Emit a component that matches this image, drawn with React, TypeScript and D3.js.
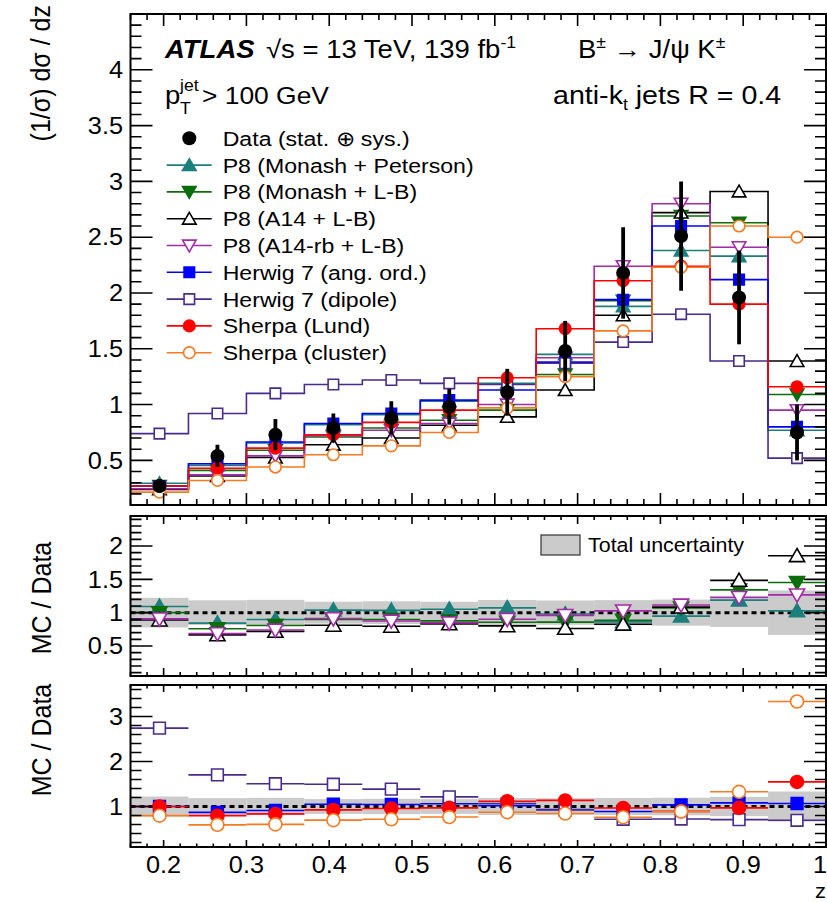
import React from 'react';
import * as d3 from 'd3';

const W = 827;
const H = 902;
const SX = 1.1; // glyphs in the reference are a bit wider than Arial
const FONT = "'Liberation Sans', Arial, Helvetica, sans-serif";

// z bins
const binEdges = [0.16, 0.23, 0.3, 0.37, 0.44, 0.51, 0.58, 0.65, 0.72, 0.79, 0.86, 0.93, 1.0];

// unfolded data, (1/sigma) dsigma/dz
const dataValues = [0.27, 0.54, 0.73, 0.79, 0.88, 0.98, 1.11, 1.48, 2.18, 2.51, 1.96, 0.75];
const dataErrors = [0.06, 0.1, 0.14, 0.13, 0.15, 0.16, 0.21, 0.27, 0.41, 0.49, 0.42, 0.25];

// MC predictions
const p8MonashPeterson = [0.295, 0.455, 0.655, 0.82, 0.91, 1.03, 1.19, 1.45, 1.88, 2.38, 2.33, 0.77];
const p8MonashLB = [0.27, 0.41, 0.59, 0.71, 0.79, 0.86, 0.95, 1.27, 1.93, 2.69, 2.63, 1.09];
const p8A14LB = [0.24, 0.36, 0.525, 0.64, 0.7, 0.815, 0.89, 1.13, 1.8, 2.72, 2.91, 1.39];
const p8A14rbLB = [0.245, 0.37, 0.54, 0.72, 0.77, 0.83, 1.0, 1.42, 2.24, 2.8, 2.41, 0.95];
const herwigAngOrd = [0.27, 0.47, 0.665, 0.83, 0.92, 1.04, 1.13, 1.38, 1.94, 2.6, 2.12, 0.8];
const herwigDipole = [0.74, 0.92, 1.1, 1.18, 1.22, 1.19, 1.18, 1.37, 1.56, 1.81, 1.39, 0.52];
const sherpaLund = [0.27, 0.43, 0.61, 0.73, 0.84, 0.95, 1.24, 1.68, 2.11, 2.24, 1.9, 1.16];
const sherpaCluster = [0.215, 0.32, 0.44, 0.55, 0.63, 0.75, 0.97, 1.25, 1.66, 2.23, 2.6, 2.5];

type Shape = 'triUp' | 'triDown' | 'square' | 'circle';
type Series = {
  label: string;
  values: number[];
  color: string;
  shape: Shape;
  filled: boolean;
  panel: 'mid' | 'bot';
};

const series: Series[] = [
  { label: 'P8 (Monash + Peterson)', values: p8MonashPeterson, color: '#1b7f7c', shape: 'triUp', filled: true, panel: 'mid' },
  { label: 'P8 (Monash + L-B)', values: p8MonashLB, color: '#0b6e0b', shape: 'triDown', filled: true, panel: 'mid' },
  { label: 'P8 (A14 + L-B)', values: p8A14LB, color: '#000000', shape: 'triUp', filled: false, panel: 'mid' },
  { label: 'P8 (A14-rb + L-B)', values: p8A14rbLB, color: '#a42aa8', shape: 'triDown', filled: false, panel: 'mid' },
  { label: 'Herwig 7 (ang. ord.)', values: herwigAngOrd, color: '#0000ff', shape: 'square', filled: true, panel: 'bot' },
  { label: 'Herwig 7 (dipole)', values: herwigDipole, color: '#4a2a8a', shape: 'square', filled: false, panel: 'bot' },
  { label: 'Sherpa (Lund)', values: sherpaLund, color: '#ff0000', shape: 'circle', filled: true, panel: 'bot' },
  { label: 'Sherpa (cluster)', values: sherpaCluster, color: '#f57a20', shape: 'circle', filled: false, panel: 'bot' },
];

const centers = binEdges.slice(0, -1).map((e, i) => (e + binEdges[i + 1]) / 2);

// scales
const x = d3.scaleLinear().domain([0.16, 1.0]).range([130.5, 826]);
const yTop = d3.scaleLinear().domain([0.1, 4.5]).range([505, 14]);
const yMid = d3.scaleLinear().domain([0.05, 2.45]).range([676, 516]);
const yBot = d3.scaleLinear().domain([0.1, 3.7]).range([847, 685]);

const symbolPath = (shape: Shape, k: number) => {
  if (shape === 'square') return d3.symbol().type(d3.symbolSquare).size(110 * k)() || '';
  if (shape === 'circle') return d3.symbol().type(d3.symbolCircle).size(105 * k)() || '';
  return d3.symbol().type(d3.symbolTriangle).size(80 * k)() || '';
};

function Marker({ s, cx, cy, k = 1 }: { s: Series; cx: number; cy: number; k?: number }) {
  const rot = s.shape === 'triDown' ? ' rotate(180)' : '';
  const dy = s.shape === 'triUp' ? 1.5 : s.shape === 'triDown' ? -1.5 : 0;
  return (
    <path
      d={symbolPath(s.shape, k)}
      transform={`translate(${cx},${cy + dy})${rot}`}
      fill={s.filled ? s.color : '#fff'}
      stroke={s.color}
      strokeWidth={1.6}
    />
  );
}

function Txt(props: {
  x: number; y: number; size: number; anchor?: string; bold?: boolean; italic?: boolean;
  rot?: boolean; children: React.ReactNode;
}) {
  const t = props.rot
    ? `translate(${props.x},${props.y}) rotate(-90) scale(1,${SX})`
    : `translate(${props.x},${props.y}) scale(${SX},1)`;
  return (
    <g transform={t}>
      <text
        textAnchor={props.anchor || 'start'}
        fontSize={props.size}
        fontWeight={props.bold ? 'bold' : 'normal'}
        fontStyle={props.italic ? 'italic' : 'normal'}
        fontFamily={FONT}
        fill="#000"
      >
        {props.children}
      </text>
    </g>
  );
}

const fmt = (v: number) => String(+v.toFixed(2));

function Frame({ y, major, minor, xMajor, xMinor, labels }: {
  y: d3.ScaleLinear<number, number>; major: number; minor: number; xMajor: number; xMinor: number; labels: boolean;
}) {
  const [x0, x1] = x.range();
  const [yb, yt] = y.range();
  const [d0, d1] = y.domain();
  const yMaj = y.ticks(major);
  const yMin = y.ticks(minor);
  const xMaj = x.ticks(10);
  const xMin = x.ticks(50);
  const p: string[] = [];
  yMin.forEach((v) => {
    const len = yMaj.some((m) => Math.abs(m - v) < 1e-6) ? 22 : 11;
    p.push(`M${x0},${y(v)}h${len}M${x1},${y(v)}h${-len}`);
  });
  xMin.forEach((v) => {
    const len = xMaj.some((m) => Math.abs(m - v) < 1e-6) ? xMajor : xMinor;
    p.push(`M${x(v)},${yb}v${-len}M${x(v)},${yt}v${len}`);
  });
  const yLab = yMaj.filter((v) => v > d0 + 1e-6 && v < d1 - 1e-6);
  return (
    <g>
      <path d={p.join('')} stroke="#000" strokeWidth={1.6} fill="none" />
      <rect x={x0} y={yt} width={x1 - x0} height={yb - yt} fill="none" stroke="#000" strokeWidth={2} />
      {yLab.map((v) => (
        <Txt key={'yl' + v} x={123} y={y(v) + 8.2} size={23} anchor="end">{fmt(v)}</Txt>
      ))}
      {labels &&
        xMaj.map((v, i) => (
          <Txt
            key={'xl' + v}
            x={i === xMaj.length - 1 ? 827 : x(v)}
            y={873}
            size={23}
            anchor={i === xMaj.length - 1 ? 'end' : 'middle'}
          >
            {fmt(v)}
          </Txt>
        ))}
    </g>
  );
}

function RatioPanel({ y, panel, clip }: { y: d3.ScaleLinear<number, number>; panel: 'mid' | 'bot'; clip: string }) {
  const list = series.filter((s) => s.panel === panel);
  return (
    <g clipPath={`url(#${clip})`}>
      {dataValues.map((d, i) => (
        <rect
          key={'b' + i}
          x={x(binEdges[i])}
          width={x(binEdges[i + 1]) - x(binEdges[i])}
          y={y(1 + dataErrors[i] / d)}
          height={y(1 - dataErrors[i] / d) - y(1 + dataErrors[i] / d)}
          fill="#cbcbcb"
        />
      ))}
      <line x1={x.range()[0]} x2={x.range()[1]} y1={y(1)} y2={y(1)} stroke="#000" strokeWidth={3} strokeDasharray="5,4" />
      {list.map((s, k) => (
        <g key={'l' + k}>
          {s.values.map((v, i) => (
            <line
              key={i}
              x1={x(binEdges[i])}
              x2={x(binEdges[i + 1])}
              y1={y(v / dataValues[i])}
              y2={y(v / dataValues[i])}
              stroke={s.color}
              strokeWidth={1.6}
            />
          ))}
        </g>
      ))}
      {list.map((s, k) => (
        <g key={'m' + k}>
          {s.values.map((v, i) => (
            <Marker key={i} s={s} k={1.25} cx={x(centers[i])} cy={y(v / dataValues[i])} />
          ))}
        </g>
      ))}
    </g>
  );
}

export default function App() {
  const step = d3
    .line<[number, number]>()
    .x((d) => x(d[0]))
    .y((d) => yTop(d[1]))
    .curve(d3.curveStepAfter);
  const stepPts = (vals: number[]): [number, number][] => [
    ...vals.map((v, i) => [binEdges[i], v] as [number, number]),
    [binEdges[binEdges.length - 1], vals[vals.length - 1]],
  ];

  const legY0 = 138.3;
  const legDy = 26.8;
  const [x0, x1] = x.range();

  return (
    <svg width={W} height={H} style={{ position: 'absolute', left: 0, top: 0, background: '#fff' }}>
      <defs>
        <clipPath id="cTop"><rect x={x0} y={14} width={x1 - x0 + 2} height={491} /></clipPath>
        <clipPath id="cMid"><rect x={x0} y={516} width={x1 - x0 + 2} height={160} /></clipPath>
        <clipPath id="cBot"><rect x={x0} y={685} width={x1 - x0 + 2} height={162} /></clipPath>
      </defs>
      <rect width={W} height={H} fill="#fff" />

      {/* main panel */}
      <g clipPath="url(#cTop)">
        {series.map((s, k) => (
          <path key={'h' + k} d={step(stepPts(s.values)) || ''} fill="none" stroke={s.color} strokeWidth={1.6} />
        ))}
        {series.map((s, k) => (
          <g key={'hm' + k}>
            {s.values.map((v, i) => (
              <Marker key={i} s={s} cx={x(centers[i])} cy={yTop(v)} />
            ))}
          </g>
        ))}
        {dataValues.map((v, i) => (
          <g key={'d' + i}>
            <line
              x1={x(centers[i])}
              x2={x(centers[i])}
              y1={yTop(v - dataErrors[i])}
              y2={yTop(v + dataErrors[i])}
              stroke="#000"
              strokeWidth={3.8}
            />
            <circle cx={x(centers[i])} cy={yTop(v)} r={7} fill="#000" />
          </g>
        ))}
      </g>
      <Frame y={yTop} major={8} minor={40} xMajor={12} xMinor={6} labels={false} />

      {/* header */}
      <Txt x={165} y={58} size={25} bold italic>ATLAS</Txt>
      <Txt x={266} y={58} size={25}>
        √s = 13 TeV, 139 fb<tspan fontSize={16} dy={-10}>-1</tspan>
      </Txt>
      <Txt x={578} y={58} size={25}>
        B<tspan fontSize={16} dy={-10}>±</tspan>
        <tspan dy={10}> → J/ψ K</tspan>
        <tspan fontSize={16} dy={-10}>±</tspan>
      </Txt>
      <Txt x={165} y={104} size={25}>p</Txt>
      <Txt x={180} y={91} size={16}>jet</Txt>
      <Txt x={180} y={114} size={16}>T</Txt>
      <Txt x={202} y={104} size={24}>{'> 100 GeV'}</Txt>
      <Txt x={553} y={104} size={26}>
        anti-k<tspan fontSize={16} dy={6}>t</tspan>
        <tspan dy={-6}> jets R = 0.4</tspan>
      </Txt>

      {/* legend */}
      <circle cx={189.3} cy={legY0} r={7} fill="#000" />
      <Txt x={222.7} y={legY0 + 7.5} size={21}>Data (stat. ⊕ sys.)</Txt>
      {series.map((s, k) => {
        const ly = legY0 + (k + 1) * legDy;
        return (
          <g key={'lg' + k}>
            <line x1={166.7} x2={211.7} y1={ly} y2={ly} stroke={s.color} strokeWidth={1.6} />
            <Marker s={s} cx={189.3} cy={ly} />
            <Txt x={222.7} y={ly + 7.5} size={21}>{s.label}</Txt>
          </g>
        );
      })}

      {/* ratio panels */}
      <RatioPanel y={yMid} panel="mid" clip="cMid" />
      <Frame y={yMid} major={5} minor={24} xMajor={8} xMinor={4} labels={false} />
      <rect x={541} y={535} width={39} height={20} fill="#cbcbcb" stroke="#333" strokeWidth={1.2} />
      <Txt x={588} y={552} size={19.5}>Total uncertainty</Txt>

      <RatioPanel y={yBot} panel="bot" clip="cBot" />
      <Frame y={yBot} major={3} minor={18} xMajor={7} xMinor={3.5} labels={true} />

      {/* axis titles */}
      <Txt x={50} y={5} size={25} rot anchor="end">(1/σ) dσ / dz</Txt>
      <Txt x={51} y={598} size={25} rot anchor="middle">MC / Data</Txt>
      <Txt x={51} y={740} size={25} rot anchor="middle">MC / Data</Txt>
      <Txt x={826} y={898} size={20} anchor="end">z</Txt>
    </svg>
  );
}
